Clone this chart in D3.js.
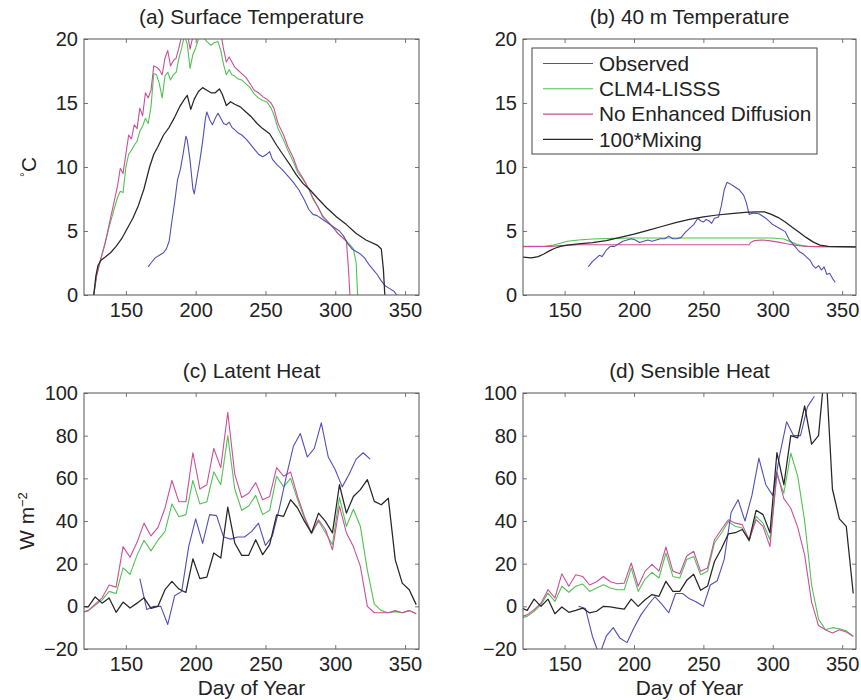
<!DOCTYPE html>
<html>
<head>
<meta charset="utf-8">
<script src="https://cdn.jsdelivr.net/npm/d3@7"></script>
<style>
  body { margin: 0; background: #fff; }
  svg text { font-family: "Liberation Sans", Arial, Helvetica, sans-serif; fill: #222; }
</style>
</head>
<body>
<svg id="chart" width="861" height="700"></svg>
<script>
// ---- data ----
var seriesNames = ["Observed", "CLM4-LISSS", "No Enhanced Diffusion", "100*Mixing"];
var xTicks = [150, 200, 250, 300, 350];
var tempTicks = [0, 5, 10, 15, 20];
var fluxTicks = [-20, 0, 20, 40, 60, 80, 100];

// (a) surface temperature, [day, degC]
var surfObserved = [[166,2.2],[168,2.5],[171,2.9],[174,3.1],[177,3.3],[179,3.6],[181,4.2],[183,5.8],[185,7.3],[187,9],[189,9.8],[191,11],[193,12.4],[194,12.1],[196,10.5],[198,8.3],[199,7.9],[201,9.2],[203,10.5],[205,12],[207,13.8],[208,14.3],[210,13.7],[212,13.3],[214,13.8],[216,14.2],[218,13.8],[220,13.4],[222,13.3],[224,13.5],[226,13.1],[228,12.9],[230,12.7],[233,12.5],[236,12.2],[239,11.8],[242,11.4],[245,11],[248,10.8],[251,11],[253,11.2],[255,10.6],[258,10.2],[262,9.8],[266,9.3],[270,8.8],[274,8.2],[278,7.4],[281,6.7],[284,6.3],[287,6.2],[291,5.9],[295,5.6],[299,5.3],[303,5],[306,4.6],[309,4],[312,3.6],[315,3.4],[318,3.2],[321,2.9],[324,2.4],[327,2],[330,1.6],[333,1.1],[336,0.7],[339,0.5],[342,0.3],[344,0]];
var surfLisss = [[127,0],[129,1.5],[132,2.8],[135,4],[138,5.3],[141,6.5],[144,7.6],[146,8.1],[148,8],[150,10],[152,11],[154,11.3],[156,11.7],[158,12],[160,12.8],[162,13.2],[164,13.8],[166,13.4],[168,14.7],[170,17.3],[172,17.2],[174,16.5],[176,15.4],[178,17.1],[180,17.4],[182,16.8],[184,17.2],[186,17.4],[188,18.5],[190,19.3],[192,20.3],[194,19.6],[196,17.7],[198,18.8],[200,19.3],[202,20],[205,20.2],[208,19.8],[211,19.5],[213,19.7],[216,19.8],[218,19.1],[220,18],[222,17.2],[224,17.6],[226,17.2],[228,17.1],[230,16.9],[233,16.8],[236,16.5],[239,16.2],[242,15.7],[245,15.4],[248,15.2],[251,15.1],[254,14.6],[256,14.1],[259,13],[263,12.1],[266,11.3],[270,10.4],[273,9.6],[277,9],[281,8.3],[284,7.5],[288,6.8],[291,6.2],[295,5.7],[299,5.2],[302,4.8],[306,4.4],[310,4],[313,3.6],[315,2.5],[316,0]];
var surfNoDiff = [[127,0],[129,1.5],[132,2.8],[135,4],[138,5.5],[141,7],[144,8.5],[146,9.9],[148,9.5],[150,11],[152,12.5],[154,12.2],[156,13.3],[158,13],[160,14.6],[162,14],[164,15.8],[166,15.4],[168,16],[170,17.9],[172,17.8],[174,17.6],[176,17.2],[178,18.5],[180,19.1],[182,17.9],[184,18.3],[186,18.5],[188,19.3],[190,20.3],[192,21],[194,20.5],[196,19.2],[198,20.2],[200,20.5],[202,21],[205,20.5],[208,21],[211,20.2],[213,20.3],[216,20.8],[218,20.5],[220,19.2],[222,18.2],[224,18.6],[226,18.2],[228,17.8],[230,17.6],[233,17.3],[236,17],[239,16.5],[242,16],[245,15.8],[248,15.5],[251,15.3],[254,15],[256,14.6],[259,13.4],[263,12.5],[266,11.6],[270,10.7],[273,9.8],[277,9.1],[281,8.3],[284,7.6],[288,6.8],[291,6.1],[295,5.7],[299,5.2],[302,4.8],[306,4.4],[308,4.2],[309.5,2],[310.5,0]];
var surfMixing = [[127,0],[128.5,1.5],[130,2.3],[132,2.7],[135,2.95],[139,3.3],[143,3.8],[147,4.4],[151,5.2],[155,6],[159,7],[163,8.3],[167,10],[170,11],[173,11.6],[177,12.5],[181,13.1],[185,13.9],[189,14.8],[192,15.3],[194,15.6],[196.5,14.5],[199,15.3],[202,15.9],[205,16.2],[208,16],[211,15.8],[214,15.8],[217,16.1],[219,15.7],[222,14.8],[225,15.1],[228,14.9],[232,14.7],[236,14.3],[240,13.9],[244,13.4],[248,13],[253,12.6],[258,11.7],[263,10.9],[268,10.1],[272,9.4],[277,8.7],[282,8.2],[287,7.6],[294,6.8],[301,6.1],[308,5.5],[315,4.8],[322,4.3],[330,3.9],[333,3.6],[334.5,2],[335.5,0]];

// (b) 40 m temperature, [day, degC]
var deepObserved = [[167,2.2],[170,2.6],[173,2.9],[175,3.1],[177,3],[180,3.5],[183,3.8],[186,3.8],[189,4],[192,4.2],[195,4.3],[198,4.4],[201,4.3],[204,4.1],[207,4.2],[210,4.3],[213,4.2],[216,4.3],[219,4.4],[222,4.4],[225,4.6],[228,4.4],[231,4.4],[234,4.5],[237,4.9],[240,5.2],[243,5.5],[246,6],[248,5.8],[250,5.7],[252,5.9],[254,5.8],[256,5.6],[258,6],[261,6.1],[263,7],[265,8.2],[267,8.8],[269,8.7],[272,8.5],[276,8.2],[279,7.8],[281,7.2],[283,6.3],[286,6.4],[290,6.35],[295,6],[300,5.5],[305,5.2],[309,4.95],[312,4.3],[316,3.8],[319,3.4],[322,3.2],[324,3],[327,2.7],[329,2.3],[331,2.1],[333,2.3],[335,1.95],[337,2.2],[339,1.6],[341,1.7],[343,1.3],[345,1]];
var deepLisss = [[120,3.8],[135,3.8],[142,3.9],[147,4.05],[152,4.2],[160,4.3],[170,4.38],[185,4.42],[200,4.45],[280,4.45],[300,4.45],[308,4.38],[313,4.15],[318,3.95],[323,3.82],[330,3.78],[360,3.75]];
var deepNoDiff = [[120,3.78],[140,3.8],[150,3.88],[160,3.92],[200,3.93],[283,3.93],[284,4.1],[287,4.25],[292,4.3],[297,4.25],[303,4.15],[310,4],[317,3.88],[325,3.8],[360,3.75]];
var deepMixing = [[120,2.95],[126,2.9],[131,3],[135,3.2],[139,3.45],[143,3.65],[147,3.8],[152,3.9],[160,4],[170,4.1],[180,4.25],[190,4.5],[200,4.75],[210,5.05],[220,5.35],[230,5.65],[240,5.9],[250,6.1],[260,6.25],[270,6.35],[280,6.45],[288,6.5],[294,6.5],[299,6.3],[304,6.05],[309,5.7],[314,5.3],[319,4.9],[324,4.5],[329,4.15],[334,3.9],[340,3.8],[350,3.78],[360,3.75]];

// (c), (d) five-day model output and observations, W m-2
var modelDays = [118,123,128,133,138,143,148,153,158,163,168,173,178,183,188,193,198,203,208,213,218,223,228,233,238,243,248,253,258,263,268,273,278,283,288,293,298,303,308,313,318,323,328,333,338,343,348,353,358];
var latentObsDays = [160,165,170,175,180,185,190,195,200,205,210,215,220,225,230,235,240,245,250,255,260,265,270,275,280,285,290,295,300,305,310,315,320,325];
var latentObserved = [13,-1.5,0,0,-8.5,5,7,28,41,29.5,43,42.5,32.5,31.5,32.5,32.5,35,39,28.5,33,46,61,75,81,70,74,86,70,64,56,62,69,72,69];
var latentLisss = [-3,-2,0.5,3,7,6,18,15,24,31,26,31,35,48,42,43,59,48,49,63,57,80,55,45,47,52,43,45,61,56,60,50,41,34,40,34.5,29,51,37.5,45.5,37.5,17,1,-2,-3,-2.5,-3,-2,-3.5];
var latentNoDiff = [-3,-2,1,4,10,9,28,23,30,39,33,37,46,59,49,49,72,55,57,74,65,91,62,51,53,58,50,51.5,65,61,63,51.5,42,34.4,40.6,36,26.5,47,34.4,28,18.7,0,-3,-3,-3,-2,-3,-2,-3.5];
var latentMixing = [0,-0.3,4.4,1.5,3.9,-2.8,2,-0.8,1.5,4,-1,0,7.8,11.7,8.1,6.5,22.3,13,13.7,25,22.6,46.5,29.7,23.9,23.9,31.2,24.2,28.9,42.9,42.2,50,46.1,39.8,34.4,43.7,39.8,34.4,57,43.7,51.5,54.7,59.4,49.2,47.6,50.7,21.8,10.9,7.8,0.8];

var sensObsDays = [160,165,170,175,180,185,190,195,200,205,210,215,220,225,230,235,240,245,250,255,260,265,270,275,280,285,290,295,300,305,310,315,320,325,330];
var sensObserved = [0,-1,-14,-23,-14,-10,-15,-17,-10,-4,0.5,4.5,1,-3,6,6,3.5,2,0,10,12,22,44,50,40,52,69.5,57,52,71,86.5,80,80,93.5,98.5];
var sensLisss = [-5.5,-4.7,-2.3,0.8,6.2,2.3,9.4,6.6,9.4,10.5,7,8.6,10.1,8.6,7.8,7.8,17.9,7,12.8,15.9,13.3,25,14,13.3,21.9,23.4,14.8,16.4,29.7,34.4,39.8,37.5,36.7,30.5,42.2,39,31.2,61.7,53,71.8,61,40,10,-6,-11,-10,-10.5,-11.5,-14];
var sensNoDiff = [-5,-4,-1.6,1.5,7.8,3.9,15.3,9.4,14.8,14,10,11.5,14,11.5,10.6,10.9,20.3,9.4,16.5,19.7,16.5,27.8,16.5,15.3,23.6,25.8,16.4,18,31.2,36,40.6,39,38.3,31.2,40.6,37.5,28,63,50.5,46,37,24,2,-9,-11,-12.5,-11,-12,-14];
var sensMixing = [-0.5,-1.9,3.4,0,3.4,-3.5,-0.3,-2.8,-1.9,-0.8,-3.1,-2.3,0,-0.3,-0.8,-1.3,3.4,0,3.1,5.5,4.7,11.7,7,7,12.2,15,7.5,9.5,21,27,34,34.5,36,31,45,43,34.5,72,57,80,79,94,76,80,115,55,41,37.5,6];

// ---- styles and layout ----
var colors = ["#5050b8", "#52c252", "#cc4f9a", "#262626"];
var widths = [1.1, 1.1, 1.1, 1.25];

function pairs(days, vals) { return days.map(function(d, i) { return [d, vals[i]]; }); }

var panels = [
  { title: "(a) Surface Temperature", box: [84, 39, 419, 295], yDomain: [0, 20], yTicks: tempTicks, ylabel: "temp",
    lines: [surfObserved, surfLisss, surfNoDiff, surfMixing] },
  { title: "(b) 40 m Temperature", box: [523, 39, 856, 295], yDomain: [0, 20], yTicks: tempTicks, legend: true,
    lines: [deepObserved, deepLisss, deepNoDiff, deepMixing] },
  { title: "(c) Latent Heat", box: [84, 393, 419, 649], yDomain: [-20, 100], yTicks: fluxTicks, ylabel: "flux", xlabel: true,
    lines: [pairs(latentObsDays, latentObserved), pairs(modelDays, latentLisss), pairs(modelDays, latentNoDiff), pairs(modelDays, latentMixing)] },
  { title: "(d) Sensible Heat", box: [523, 393, 856, 649], yDomain: [-20, 100], yTicks: fluxTicks, xlabel: true,
    lines: [pairs(sensObsDays, sensObserved), pairs(modelDays, sensLisss), pairs(modelDays, sensNoDiff), pairs(modelDays, sensMixing)] }
];

var svg = d3.select("#chart");
var tickFont = 20;
var labelFont = 20.8;

panels.forEach(function(p, pi) {
  var x0 = p.box[0], y0 = p.box[1], x1 = p.box[2], y1 = p.box[3];
  var x = d3.scaleLinear().domain([120, 360]).range([x0, x1]);
  var y = d3.scaleLinear().domain(p.yDomain).range([y1, y0]);
  var g = svg.append("g");

  g.append("clipPath").attr("id", "clip" + pi)
    .append("rect").attr("x", x0).attr("y", y0).attr("width", x1 - x0).attr("height", y1 - y0);

  // axes: ticks point inward on all four sides
  var bottom = g.append("g").attr("transform", "translate(0," + y1 + ")")
    .call(d3.axisBottom(x).tickValues(xTicks).tickSizeInner(-4).tickSizeOuter(0).tickPadding(8));
  var left = g.append("g").attr("transform", "translate(" + x0 + ",0)")
    .call(d3.axisLeft(y).tickValues(p.yTicks).tickSizeInner(-4).tickSizeOuter(0).tickPadding(6));
  var top = g.append("g").attr("transform", "translate(0," + y0 + ")")
    .call(d3.axisTop(x).tickValues(xTicks).tickSizeInner(-4).tickSizeOuter(0).tickFormat(""));
  var right = g.append("g").attr("transform", "translate(" + x1 + ",0)")
    .call(d3.axisRight(y).tickValues(p.yTicks).tickSizeInner(-4).tickSizeOuter(0).tickFormat(""));
  [bottom, left, top, right].forEach(function(a) {
    a.select(".domain").remove();
    a.selectAll(".tick line").attr("stroke", "#555").attr("stroke-width", 0.8);
    a.selectAll(".tick text").attr("font-size", tickFont).attr("fill", "#222")
      .style("font-family", "'Liberation Sans', Arial, sans-serif");
  });

  // series
  var line = d3.line().x(function(d) { return x(d[0]); }).y(function(d) { return y(d[1]); });
  var lg = g.append("g").attr("clip-path", "url(#clip" + pi + ")");
  [1, 2, 0, 3].forEach(function(si) {
    lg.append("path").datum(p.lines[si])
      .attr("d", line).attr("fill", "none")
      .attr("stroke", colors[si]).attr("stroke-width", widths[si])
      .attr("stroke-linejoin", "round");
  });

  g.append("rect").attr("x", x0).attr("y", y0).attr("width", x1 - x0).attr("height", y1 - y0)
    .attr("fill", "none").attr("stroke", "#555").attr("stroke-width", 1);

  g.append("text").attr("x", (x0 + x1) / 2).attr("y", y0 - 15)
    .attr("text-anchor", "middle").attr("font-size", labelFont).text(p.title);

  if (p.xlabel) {
    g.append("text").attr("x", (x0 + x1) / 2).attr("y", y1 + 46)
      .attr("text-anchor", "middle").attr("font-size", labelFont).text("Day of Year");
  }

  var cy = (y0 + y1) / 2;
  if (p.ylabel == "temp") {
    var t = g.append("text").attr("transform", "translate(36," + cy + ") rotate(-90)")
      .attr("text-anchor", "middle").attr("font-size", labelFont);
    t.append("tspan").attr("font-size", 12).attr("baseline-shift", "super").text("°");
    t.append("tspan").attr("baseline-shift", "0").text("C");
  }
  if (p.ylabel == "flux") {
    var t2 = g.append("text").attr("transform", "translate(34," + cy + ") rotate(-90)")
      .attr("text-anchor", "middle").attr("font-size", labelFont);
    t2.append("tspan").text("W m");
    t2.append("tspan").attr("font-size", 13).attr("baseline-shift", "super").text("−2");
  }

  if (p.legend) {
    var lx = x0 + 9, ly = y0 + 9, lw = 285, lh = 106;
    var leg = g.append("g");
    leg.append("rect").attr("x", lx).attr("y", ly).attr("width", lw).attr("height", lh)
      .attr("fill", "#fff").attr("stroke", "#444").attr("stroke-width", 1);
    seriesNames.forEach(function(name, i) {
      var ry = ly + 15.5 + i * 25.3;
      leg.append("line").attr("x1", lx + 11).attr("x2", lx + 61).attr("y1", ry).attr("y2", ry)
        .attr("stroke", colors[i]).attr("stroke-width", widths[i]);
      leg.append("text").attr("x", lx + 67).attr("y", ry).attr("dy", "0.35em")
        .attr("font-size", labelFont).text(name);
    });
  }
});
</script>
</body>
</html>
